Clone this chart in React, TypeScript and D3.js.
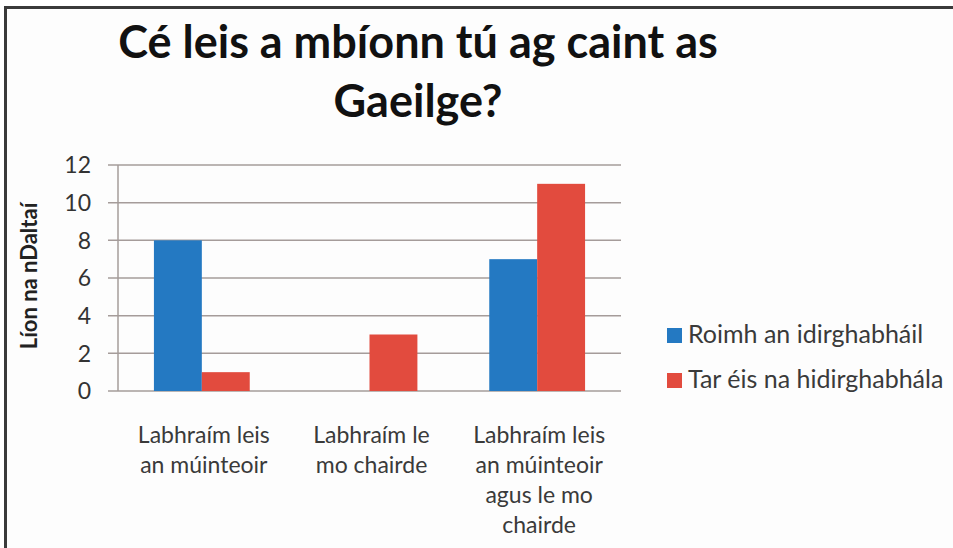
import React from "react";
import * as d3 from "d3";

// data
const categories = [
  ["Labhraím leis", "an múinteoir"],
  ["Labhraím le", "mo chairde"],
  ["Labhraím leis", "an múinteoir", "agus le mo", "chairde"],
];
const seriesNames = ["Roimh an idirghabháil", "Tar éis na hidirghabhála"];
const before = [8, 0, 7];
const after = [1, 3, 11];
const yTicks = [0, 2, 4, 6, 8, 10, 12];
const titleLines = ["Cé leis a mbíonn tú ag caint as", "Gaeilge?"];
const yTitle = "Líon  na nDaltaí";

const colors = ["#2479c2", "#e24b3e"];

const W = 953;
const H = 548;
const margin = { top: 165, bottom: 391, left: 118, right: 621 };

const App = () => {
  const catKeys = categories.map((c, i) => String(i));
  const x0 = d3.scaleBand().domain(catKeys).range([margin.left, margin.right]);
  const x1 = d3
    .scaleBand()
    .domain(seriesNames)
    .range([0, x0.bandwidth()])
    .paddingOuter(0.75);
  const y = d3.scaleLinear().domain([0, 12]).range([margin.bottom, margin.top]);
  const values = [before, after];

  const font = "Lato, 'Open Sans', sans-serif";

  return (
    <div style={{ position: "fixed", left: 0, top: 0 }}>
      <svg width={W} height={H} style={{ display: "block", background: "#fff" }}>
        {/* frame */}
        <rect x={5.5} y={7.5} width={W + 10} height={H + 10} fill="#fdfdfd" stroke="#3a3a3a" strokeWidth={3} />

        {/* title */}
        {titleLines.map((t, i) => (
          <text
            key={t}
            x={418}
            y={58 + i * 59}
            textAnchor="middle"
            fontFamily={font}
            fontWeight={700}
            fontSize={45}
            fill="#111"
          >
            {t}
          </text>
        ))}

        {/* grid */}
        {yTicks.map((t) => (
          <g key={t}>
            <line x1={108} x2={margin.right} y1={y(t)} y2={y(t)} stroke="#a59c9a" strokeWidth={1.5} />
            <text
              x={91}
              y={y(t)}
              dy="0.36em"
              textAnchor="end"
              fontFamily={font}
              fontSize={23}
              fill="#333"
            >
              {t}
            </text>
          </g>
        ))}
        <line x1={margin.left} x2={margin.left} y1={y(12)} y2={y(0)} stroke="#a59c9a" strokeWidth={1.5} />

        {/* bars */}
        {catKeys.map((k, i) => (
          <g key={k} transform={`translate(${x0(k)},0)`}>
            {seriesNames.map((s, j) => (
              <rect
                key={s}
                x={x1(s)}
                y={y(values[j][i])}
                width={x1.bandwidth()}
                height={y(0) - y(values[j][i])}
                fill={colors[j]}
              />
            ))}
          </g>
        ))}

        {/* category labels */}
        {categories.map((lines, i) => (
          <text
            key={i}
            x={(x0(String(i)) || 0) + x0.bandwidth() / 2 + 2}
            y={443}
            textAnchor="middle"
            fontFamily={font}
            fontSize={23}
            fill="#3a3a3a"
          >
            {lines.map((l, li) => (
              <tspan key={li} x={(x0(String(i)) || 0) + x0.bandwidth() / 2 + 2} dy={li === 0 ? 0 : 30}>
                {l}
              </tspan>
            ))}
          </text>
        ))}

        {/* y title */}
        <text
          transform="translate(37,276) rotate(-90)"
          textAnchor="middle"
          fontFamily={font}
          fontWeight={700}
          fontSize={22}
          fill="#222"
        >
          {yTitle}
        </text>

        {/* legend */}
        {seriesNames.map((s, j) => (
          <g key={s} transform={`translate(667,${328 + j * 45})`}>
            <rect width={15} height={15} fill={colors[j]} />
            <text x={21} y={15} fontFamily={font} fontSize={25} fill="#3a3a3a">
              {s}
            </text>
          </g>
        ))}
      </svg>
    </div>
  );
};

export default App;
